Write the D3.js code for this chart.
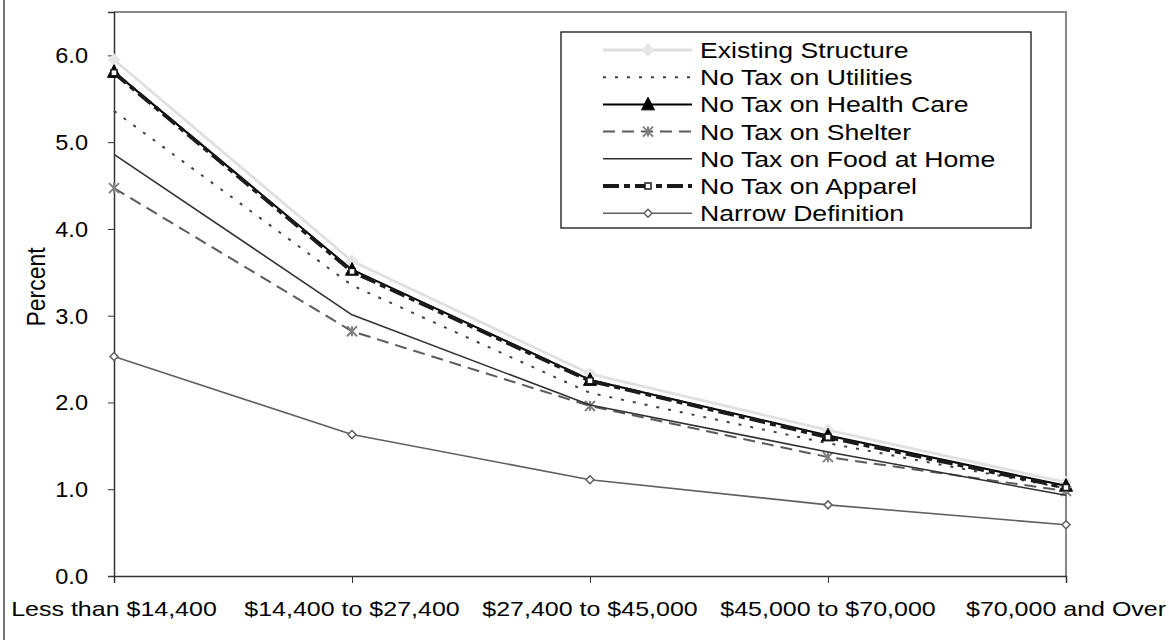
<!DOCTYPE html>
<html>
<head>
<meta charset="utf-8">
<script src="https://cdn.jsdelivr.net/npm/d3@7"></script>
<style>
  html, body { margin: 0; padding: 0; background: #fff; }
  svg { display: block; font-family: "Liberation Sans", Arial, sans-serif; }
</style>
</head>
<body>
<svg id="chart" width="1169" height="640"></svg>
<script>
// Income brackets along the x axis
const categories = [
  "Less than $14,400",
  "$14,400 to $27,400",
  "$27,400 to $45,000",
  "$45,000 to $70,000",
  "$70,000 and Over"
];

// Tax burden (percent of income) for each scenario
const existingStructure = [5.95, 3.63, 2.33, 1.68, 1.08];
const noTaxUtilities    = [5.36, 3.35, 2.11, 1.53, 1.01];
const noTaxHealthCare   = [5.81, 3.53, 2.26, 1.62, 1.04];
const noTaxShelter      = [4.47, 2.82, 1.96, 1.37, 0.98];
const noTaxFoodAtHome   = [4.86, 3.01, 1.97, 1.43, 0.93];
const noTaxApparel      = [5.80, 3.51, 2.25, 1.60, 1.02];
const narrowDefinition  = [2.53, 1.63, 1.11, 0.82, 0.59];

const seriesNames = [
  "Existing Structure",
  "No Tax on Utilities",
  "No Tax on Health Care",
  "No Tax on Shelter",
  "No Tax on Food at Home",
  "No Tax on Apparel",
  "Narrow Definition"
];

const yTicks = [0, 1, 2, 3, 4, 5, 6];
const yTickLabels = ["0.0", "1.0", "2.0", "3.0", "4.0", "5.0", "6.0"];

// Line and marker styling per series
const styles = [
  { color: "#e0e0e0", width: 2.8, dash: null,       marker: "diamond",  mFill: "#e6e6e6", mStroke: "#e6e6e6", mSize: 11 },
  { color: "#404040", width: 2,   dash: "3,9",      marker: null },
  { color: "#000000", width: 2,   dash: null,       marker: "triangle", mFill: "#000", mStroke: "#000", mSize: 13 },
  { color: "#5a5a5a", width: 2,   dash: "12,7",     marker: "asterisk", mFill: "none", mStroke: "#808080", mSize: 10 },
  { color: "#303030", width: 1.6, dash: null,       marker: null },
  { color: "#1a1a1a", width: 4,   dash: "16,5,6,5", marker: "square",   mFill: "#fff", mStroke: "#1a1a1a", mSize: 6 },
  { color: "#606060", width: 1.6, dash: null,       marker: "diamond",  mFill: "#fff", mStroke: "#606060", mSize: 8 }
];

const seriesValues = [existingStructure, noTaxUtilities, noTaxHealthCare, noTaxShelter,
                      noTaxFoodAtHome, noTaxApparel, narrowDefinition];

const svg = d3.select("#chart");
const plot = { left: 114, right: 1066, top: 12, bottom: 576 };

const x = d3.scalePoint().domain(categories).range([plot.left, plot.right]);
const y = d3.scaleLinear().domain([0, 6.5]).range([plot.bottom, plot.top]);

// outer frame edge
svg.append("line").attr("x1", 4).attr("x2", 4).attr("y1", 0).attr("y2", 640)
  .attr("stroke", "#444").attr("stroke-width", 1.5);

// plot area border (top and right)
svg.append("path")
  .attr("d", `M${plot.left},${plot.top}H${plot.right}V${plot.bottom}`)
  .attr("fill", "none").attr("stroke", "#888").attr("stroke-width", 2);

// y axis
const yAxis = d3.axisLeft(y).tickValues(yTicks).tickSize(6).tickFormat("");
const gy = svg.append("g").attr("transform", `translate(${plot.left},0)`).call(yAxis);
gy.select(".domain").attr("stroke", "#333").attr("stroke-width", 1.5);
gy.selectAll(".tick line").attr("stroke", "#333");
yTicks.forEach((v, i) => {
  svg.append("text")
    .attr("transform", `translate(88,${y(v)}) scale(1.07,1)`)
    .attr("text-anchor", "end").attr("dy", "0.36em")
    .attr("font-size", 22).attr("fill", "#000")
    .text(yTickLabels[i]);
});

// x axis
const xAxis = d3.axisBottom(x).tickSize(7).tickFormat("");
const gx = svg.append("g").attr("transform", `translate(0,${plot.bottom})`).call(xAxis);
gx.select(".domain").attr("stroke", "#333").attr("stroke-width", 1.5);
gx.selectAll(".tick line").attr("stroke", "#333");
categories.forEach(c => {
  svg.append("text")
    .attr("transform", `translate(${x(c)},616) scale(1.19,1)`)
    .attr("text-anchor", "middle")
    .attr("font-size", 21).attr("fill", "#000")
    .text(c);
});

// y axis title
svg.append("text")
  .attr("transform", `translate(36,287) rotate(-90) scale(1,1.12)`)
  .attr("text-anchor", "middle").attr("dy", "0.36em")
  .attr("font-size", 23).attr("fill", "#000")
  .text("Percent");

// marker shapes
function drawMarker(g, type, cx, cy, st) {
  const s = st.mSize;
  if (type === "diamond") {
    g.append("path").attr("d", `M${cx},${cy - s / 2}L${cx + s / 2},${cy}L${cx},${cy + s / 2}L${cx - s / 2},${cy}Z`)
      .attr("fill", st.mFill).attr("stroke", st.mStroke).attr("stroke-width", 1.5);
  } else if (type === "triangle") {
    g.append("path").attr("d", `M${cx},${cy - s * 0.55}L${cx + s / 2},${cy + s * 0.42}L${cx - s / 2},${cy + s * 0.42}Z`)
      .attr("fill", st.mFill).attr("stroke", st.mStroke).attr("stroke-width", 1);
  } else if (type === "square") {
    g.append("rect").attr("x", cx - s / 2).attr("y", cy - s / 2).attr("width", s).attr("height", s)
      .attr("fill", st.mFill).attr("stroke", st.mStroke).attr("stroke-width", 1.5);
  } else if (type === "asterisk") {
    const h = s / 2;
    g.append("path")
      .attr("d", `M${cx - h},${cy - h}L${cx + h},${cy + h}M${cx - h},${cy + h}L${cx + h},${cy - h}M${cx},${cy - h}V${cy + h}`)
      .attr("fill", "none").attr("stroke", st.mStroke).attr("stroke-width", 2);
  }
}

// series lines
const line = d3.line().x((d, i) => x(categories[i])).y(d => y(d));
seriesValues.forEach((vals, k) => {
  const st = styles[k];
  const g = svg.append("g");
  g.append("path").datum(vals).attr("d", line)
    .attr("fill", "none").attr("stroke", st.color).attr("stroke-width", st.width)
    .attr("stroke-dasharray", st.dash).attr("stroke-linejoin", "round");
  if (st.marker) {
    vals.forEach((v, i) => drawMarker(g, st.marker, x(categories[i]), y(v), st));
  }
});

// legend
const legend = { x: 561, y: 32, w: 470, h: 196 };
svg.append("rect").attr("x", legend.x).attr("y", legend.y).attr("width", legend.w).attr("height", legend.h)
  .attr("fill", "#fff").attr("stroke", "#000").attr("stroke-width", 1.2);
seriesNames.forEach((name, k) => {
  const st = styles[k];
  const cy = 50 + k * 27.2;
  const g = svg.append("g");
  g.append("line").attr("x1", 603).attr("x2", 692).attr("y1", cy).attr("y2", cy)
    .attr("stroke", st.color).attr("stroke-width", st.width).attr("stroke-dasharray", st.dash);
  if (st.marker) drawMarker(g, st.marker, 648, cy, st);
  g.append("text")
    .attr("transform", `translate(700,${cy}) scale(1.21,1)`)
    .attr("dy", "0.36em").attr("font-size", 22).attr("fill", "#000")
    .text(name);
});
</script>
</body>
</html>
